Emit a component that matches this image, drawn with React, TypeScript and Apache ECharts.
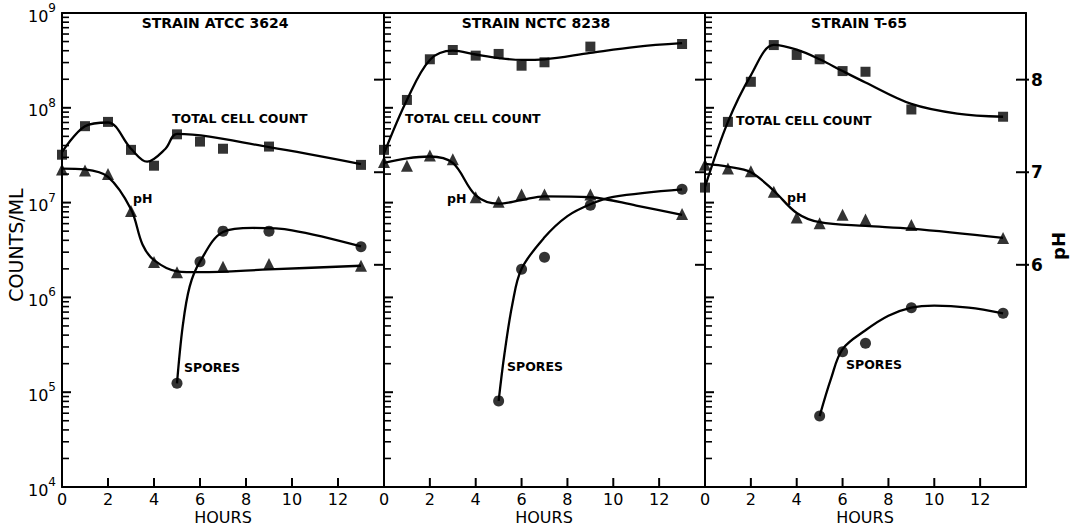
import React, { useEffect, useRef } from "react";
import * as echarts from "echarts";

// ---------- tick / category data ----------
const hourTicks = [0, 2, 4, 6, 8, 10, 12];
const phTicks = [6, 7, 8];
const decadeExponents = [4, 5, 6, 7, 8, 9];
const decadeSteps = [2, 3, 4, 5, 6, 7, 8, 9];
const strainTitles = ["STRAIN ATCC 3624", "STRAIN NCTC 8238", "STRAIN T-65"];

// ---------- measured points (counts per ml, pH) ----------
const countHours = [0, 1, 2, 3, 4, 5, 6, 7, 9, 13];
const sporeHours = [5, 6, 7, 9, 13];
const atccPhHours = [0, 1, 2, 3, 4, 5, 7, 9, 13];
const phHours = [0, 1, 2, 3, 4, 5, 6, 7, 9, 13];

const atccCount = [3.2e7, 6.4e7, 7.1e7, 3.6e7, 2.45e7, 5.25e7, 4.4e7, 3.7e7, 3.9e7, 2.5e7];
const atccPh = [7.03, 7.02, 6.98, 6.58, 6.03, 5.92, 5.98, 6.01, 5.99];
const atccSpores = [1.24e5, 2.38e6, 5.0e6, 5.0e6, 3.43e6];

const nctcCount = [3.6e7, 1.21e8, 3.25e8, 4.07e8, 3.55e8, 3.7e8, 2.78e8, 3.02e8, 4.42e8, 4.71e8];
const nctcPh = [7.11, 7.07, 7.18, 7.14, 6.73, 6.68, 6.76, 6.76, 6.76, 6.55];
const nctcSpores = [8.1e4, 1.98e6, 2.65e6, 9.4e6, 1.38e7];

const t65Count = [1.44e7, 7.1e7, 1.88e8, 4.59e8, 3.61e8, 3.25e8, 2.44e8, 2.4e8, 9.6e7, 8.05e7];
const t65Ph = [7.08, 7.04, 7.01, 6.79, 6.51, 6.45, 6.54, 6.49, 6.43, 6.29];
const t65Spores = [5.6e4, 2.67e5, 3.28e5, 7.78e5, 6.79e5];

// ---------- hand-drawn fitted curves ----------
const atccCountCurve = [[0, 3.4e7], [1, 6.4e7], [2, 7.0e7], [3, 3.7e7], [3.7, 2.7e7], [4.5, 3.7e7], [5, 5.3e7], [9, 3.85e7], [13, 2.55e7]];
const atccPhCurve = [[0, 7.04], [1, 7.03], [2, 6.95], [3, 6.6], [3.5, 6.22], [4, 6.05], [5, 5.93], [6, 5.92], [9, 5.95], [13, 5.99]];
const atccSporeCurve = [[5, 1.24e5], [5.25, 5e5], [5.55, 1.3e6], [6, 2.38e6], [7, 4.9e6], [8.3, 5.4e6], [10, 5.1e6], [13, 3.45e6]];

const nctcCountCurve = [[0, 3.3e7], [1, 1.21e8], [2, 3.2e8], [3, 4.0e8], [4, 3.65e8], [5, 3.35e8], [6, 3.2e8], [7, 3.25e8], [9, 3.8e8], [11, 4.4e8], [13, 4.8e8]];
const nctcPhCurve = [[0, 7.1], [1, 7.15], [2, 7.17], [3, 7.1], [4, 6.75], [5, 6.66], [6, 6.7], [7, 6.74], [9, 6.73], [11, 6.64], [13, 6.54]];
const nctcSporeCurve = [[5, 8.1e4], [5.25, 2.5e5], [5.6, 8.5e5], [6, 2.0e6], [7, 4.3e6], [8, 7.2e6], [9, 9.6e6], [10, 1.15e7], [13, 1.38e7]];

const t65CountCurve = [[0, 1.46e7], [1, 7.1e7], [2, 2.2e8], [3, 4.6e8], [4, 4.1e8], [5, 3.25e8], [6, 2.44e8], [7, 1.85e8], [9, 1.1e8], [11, 8.7e7], [13, 8.05e7]];
const t65PhCurve = [[0, 7.09], [1, 7.06], [2, 7.0], [3, 6.8], [4, 6.56], [5, 6.46], [7, 6.42], [9, 6.39], [13, 6.29]];
const t65SporeCurve = [[5, 5.6e4], [5.5, 1.4e5], [6, 2.85e5], [7, 4.5e5], [8, 6.4e5], [9, 7.8e5], [10, 8.2e5], [11.5, 7.8e5], [13, 6.8e5]];

const FONT = '"DejaVu Sans", sans-serif';
const INK = "#000";

// counts are plotted on an axis measured in decades (log10 of counts/ml)
const decade = (v: number) => Math.log10(v);
const minorDecadeTicks = decadeExponents.slice(0, -1).flatMap((e) => decadeSteps.map((k) => e + Math.log10(k)));

function pairs(h: number[], v: number[], f: (x: number) => number = (x) => x) {
  return h.map((x, i) => [x, f(v[i])]);
}
function curve(c: number[][], f: (x: number) => number = (x) => x) {
  return c.map(([h, v]) => [h, f(v)]);
}

const panels = [
  { count: pairs(countHours, atccCount, decade), ph: pairs(atccPhHours, atccPh), spores: pairs(sporeHours, atccSpores, decade), countCurve: curve(atccCountCurve, decade), phCurve: curve(atccPhCurve), sporeCurve: curve(atccSporeCurve, decade) },
  { count: pairs(countHours, nctcCount, decade), ph: pairs(phHours, nctcPh), spores: pairs(sporeHours, nctcSpores, decade), countCurve: curve(nctcCountCurve, decade), phCurve: curve(nctcPhCurve), sporeCurve: curve(nctcSporeCurve, decade) },
  { count: pairs(countHours, t65Count, decade), ph: pairs(phHours, t65Ph), spores: pairs(sporeHours, t65Spores, decade), countCurve: curve(t65CountCurve, decade), phCurve: curve(t65PhCurve), sporeCurve: curve(t65SporeCurve, decade) },
];

const gridLefts = [62, 384, 705];
const gridWidths = [322, 321, 321];
const HOUR_MIN = 0;
const HOUR_MAX = 14;
const DEC_MIN = 4;
const DEC_MAX = 9;

const axisLine = { show: true, onZero: false, lineStyle: { color: INK, width: 2 } };

function buildOption() {
  const grid = gridLefts.map((l, i) => ({ left: l, top: 13, width: gridWidths[i], height: 474 }));

  const xAxis: any[] = [];
  gridLefts.forEach((_, i) => {
    xAxis.push({
      type: "value",
      gridIndex: i,
      position: "bottom",
      min: HOUR_MIN,
      max: HOUR_MAX,
      interval: 2,
      axisLine,
      axisTick: { show: false },
      axisLabel: { show: true, customValues: hourTicks, fontFamily: FONT, fontSize: 16, color: INK, margin: 4 },
      splitLine: { show: false },
    });
  });
  gridLefts.forEach((_, i) => {
    xAxis.push({
      type: "value",
      gridIndex: i,
      position: "top",
      min: HOUR_MIN,
      max: HOUR_MAX,
      axisLine,
      axisTick: { show: false },
      axisLabel: { show: false },
      splitLine: { show: false },
    });
  });

  const yAxis: any[] = [];
  gridLefts.forEach((_, i) => {
    yAxis.push({
      type: "value",
      gridIndex: i,
      position: "left",
      min: DEC_MIN,
      max: DEC_MAX,
      interval: 1,
      axisLine,
      axisTick: { show: false },
      axisLabel: {
        show: i === 0,
        margin: 6,
        customValues: decadeExponents,
        formatter: (v: number) => `{b|10}{s|${Math.round(v)}}`,
        rich: {
          b: { fontFamily: FONT, fontSize: 16, color: INK, lineHeight: 22, verticalAlign: "bottom" },
          s: { fontFamily: FONT, fontSize: 12, color: INK, lineHeight: 22, verticalAlign: "top" },
        },
      },
      splitLine: { show: false },
    });
    yAxis.push({
      type: "value",
      gridIndex: i,
      position: "right",
      min: 3.6,
      max: 8.72,
      axisLine,
      axisTick: { show: false },
      axisLabel: { show: i === 2, customValues: phTicks, fontFamily: FONT, fontSize: 17, fontWeight: "bold", color: INK, margin: 5 },
      splitLine: { show: false },
    });
  });

  const series: any[] = [];
  panels.forEach((p, i) => {
    const lineBase = {
      type: "line",
      xAxisIndex: i,
      showSymbol: false,
      symbol: "none",
      smooth: 0.35,
      lineStyle: { color: INK, width: 2.3 },
      silent: true,
    };
    series.push({ ...lineBase, name: "count curve " + i, yAxisIndex: 2 * i, data: p.countCurve });
    series.push({ ...lineBase, name: "pH curve " + i, yAxisIndex: 2 * i + 1, data: p.phCurve });
    series.push({ ...lineBase, name: "spore curve " + i, yAxisIndex: 2 * i, data: p.sporeCurve });
    series.push({ type: "scatter", name: "Total cell count " + i, xAxisIndex: i, yAxisIndex: 2 * i, symbol: "rect", symbolSize: 10, itemStyle: { color: INK }, data: p.count });
    series.push({ type: "scatter", name: "pH " + i, xAxisIndex: i, yAxisIndex: 2 * i + 1, symbol: "triangle", symbolSize: 12, itemStyle: { color: INK }, data: p.ph });
    series.push({ type: "scatter", name: "Spores " + i, xAxisIndex: i, yAxisIndex: 2 * i, symbol: "circle", symbolSize: 11, itemStyle: { color: INK }, data: p.spores });
  });

  return { animation: false, grid, xAxis, yAxis, series };
}

function textGraphics() {
  const titleX = [215, 536, 859];
  const hoursX = [223, 544, 865];
  const annot = (text: string, x: number, y: number) => ({
    type: "text",
    x,
    y,
    z: 10,
    style: { text, fontFamily: FONT, fontSize: 12.5, fontWeight: "bold", fill: INK, align: "left", verticalAlign: "middle" },
  });
  return [
    ...strainTitles.map((t, i) => ({
      type: "text",
      x: titleX[i],
      y: 23,
      z: 10,
      style: { text: t, fontFamily: FONT, fontSize: 14, fontWeight: "bold", fill: INK, align: "center", verticalAlign: "middle" },
    })),
    ...hoursX.map((x) => ({
      type: "text",
      x,
      y: 517,
      z: 10,
      style: { text: "HOURS", fontFamily: FONT, fontSize: 16, fill: INK, align: "center", verticalAlign: "middle" },
    })),
    {
      type: "text",
      x: 16,
      y: 245,
      rotation: Math.PI / 2,
      z: 10,
      style: { text: "COUNTS/ML", fontFamily: FONT, fontSize: 19, fill: INK, align: "center", verticalAlign: "middle" },
    },
    {
      type: "text",
      x: 1058,
      y: 246,
      rotation: Math.PI / 2,
      z: 10,
      style: { text: "pH", fontFamily: FONT, fontSize: 18, fontWeight: "bold", fill: INK, align: "center", verticalAlign: "middle" },
    },
    annot("TOTAL CELL COUNT", 172, 118),
    annot("pH", 133, 198),
    annot("SPORES", 184, 367),
    annot("TOTAL CELL COUNT", 405, 118),
    annot("pH", 447, 198),
    annot("SPORES", 507, 366),
    annot("TOTAL CELL COUNT", 736, 120),
    annot("pH", 787, 197),
    annot("SPORES", 846, 364),
  ];
}

// Tick marks, placed through the chart's own axis scales (convertToPixel).
function tickGraphics(chart: echarts.ECharts) {
  const out: any[] = [];
  const seg = (x1: number, y1: number, x2: number, y2: number, w: number) => ({
    type: "line",
    z: 8,
    silent: true,
    shape: { x1, y1, x2, y2 },
    style: { stroke: INK, lineWidth: w },
  });
  const px = (opt: any, v: number) => Number(chart.convertToPixel(opt, v));
  gridLefts.forEach((_, i) => {
    const xLeft = px({ xAxisIndex: i }, HOUR_MIN);
    const xRight = px({ xAxisIndex: i }, HOUR_MAX);
    const yBottom = px({ yAxisIndex: 2 * i + 1 }, 3.6);
    if (![xLeft, xRight, yBottom].every(Number.isFinite)) return;
    hourTicks.slice(1).forEach((h) => {
      const x = px({ xAxisIndex: i }, h);
      if (Number.isFinite(x)) out.push(seg(x, yBottom, x, yBottom - 9, 2));
    });
    decadeExponents.forEach((e) => {
      const y = px({ yAxisIndex: 2 * i }, e);
      if (Number.isFinite(y)) out.push(seg(xLeft, y, xLeft + 9, y, 2));
    });
    minorDecadeTicks.forEach((e) => {
      const y = px({ yAxisIndex: 2 * i }, e);
      if (Number.isFinite(y)) out.push(seg(xLeft, y, xLeft + 7, y, 1.6));
    });
    phTicks.forEach((v) => {
      const y = px({ yAxisIndex: 2 * i + 1 }, v);
      if (Number.isFinite(y)) out.push(seg(xRight - 10, y, xRight + (i === 2 ? 3 : 0), y, 2));
    });
  });
  return out;
}

export default function App() {
  const ref = useRef<HTMLDivElement>(null);
  useEffect(() => {
    if (!ref.current) return;
    const chart = echarts.init(ref.current, undefined, { renderer: "svg" });
    chart.setOption(buildOption() as any);
    chart.setOption({ graphic: [...textGraphics(), ...tickGraphics(chart)] } as any);
    return () => chart.dispose();
  }, []);
  return (
    <div
      ref={ref}
      style={{ position: "fixed", left: 0, top: 0, width: 1071, height: 527, background: "#fff" }}
    />
  );
}
